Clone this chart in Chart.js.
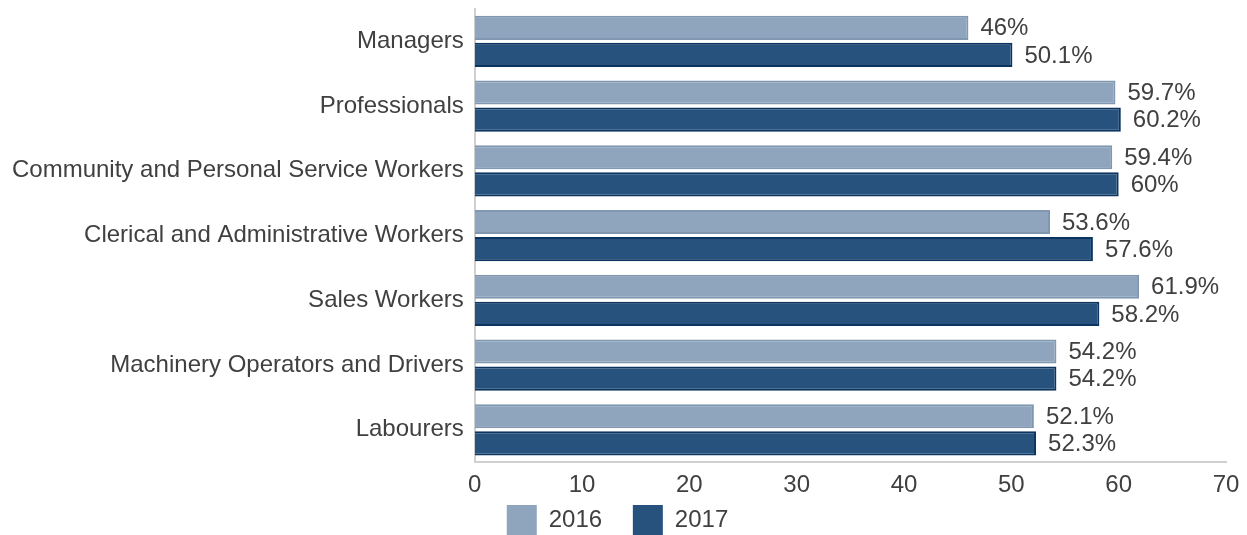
<!DOCTYPE html>
<html>
<head>
<meta charset="utf-8">
<script src="https://cdn.jsdelivr.net/npm/chart.js@4"></script>
<style>
  html, body { margin: 0; padding: 0; background: #fff; }
  #wrap { width: 1247px; height: 535px; }
</style>
</head>
<body>
<div id="wrap"><canvas id="chart"></canvas></div>
<script>
// data
const occupations = [
    "Managers",
    "Professionals",
    "Community and Personal Service Workers",
    "Clerical and Administrative Workers",
    "Sales Workers",
    "Machinery Operators and Drivers",
    "Labourers"
]
const share2016 = [46, 59.7, 59.4, 53.6, 61.9, 54.2, 52.1]
const share2017 = [50.1, 60.2, 60, 57.6, 58.2, 54.2, 52.3]
const xTicks = [0, 10, 20, 30, 40, 50, 60, 70]

const textColor = "#404040"
const fontFamily = "'Liberation Sans', Arial, sans-serif"

// value labels at the end of each bar
const barLabels = {
    id: 'barLabels',
    afterDatasetsDraw(chart) {
        const ctx = chart.ctx
        ctx.save()
        ctx.font = "24px " + fontFamily
        ctx.fillStyle = textColor
        ctx.textBaseline = "middle"
        ctx.textAlign = "left"
        chart.data.datasets.forEach((ds, i) => {
            chart.getDatasetMeta(i).data.forEach((bar, j) => {
                ctx.fillText(ds.data[j] + "%", bar.x + 12, bar.y + 1)
            })
        })
        ctx.restore()
    }
}

const data = {
    labels: occupations,
    datasets: [{
        label: "2016",
        data: share2016,
        backgroundColor: "#8EA5BD",
        borderColor: "#7F97B1",
        borderWidth: 2,
        barPercentage: 0.89,
        categoryPercentage: 0.84
    }, {
        label: "2017",
        data: share2017,
        backgroundColor: "#27527E",
        borderColor: "#0C3461",
        borderWidth: 2,
        barPercentage: 0.89,
        categoryPercentage: 0.84
    }]
}

// trailing spaces widen the legend items a little, like the original spacing
const legendSpace = ["    ", ""]

new Chart(document.getElementById('chart'), {
    type: 'bar',
    data: data,
    options: {
        indexAxis: 'y',
        responsive: true,
        maintainAspectRatio: false,
        animation: false,
        layout: { padding: { top: 7, right: 21, left: 9, bottom: -10 } },
        scales: {
            x: {
                min: 0,
                max: 70,
                afterBuildTicks: axis => { axis.ticks = xTicks.map(v => ({ value: v })) },
                grid: { display: false },
                border: { display: true, color: "#d0d0d0", width: 2 },
                ticks: { color: textColor, font: { size: 24, family: fontFamily }, padding: 1 }
            },
            y: {
                grid: { display: false },
                border: { display: true, color: "#d0d0d0", width: 2 },
                ticks: { color: textColor, font: { size: 24, family: fontFamily, lineHeight: 0.5 }, padding: 3 }
            }
        },
        plugins: {
            legend: {
                position: 'bottom',
                labels: {
                    color: textColor,
                    font: { size: 24, family: fontFamily },
                    boxWidth: 30,
                    boxHeight: 30,
                    padding: 4,
                    generateLabels: chart => Chart.defaults.plugins.legend.labels.generateLabels(chart)
                        .map((item, i) => Object.assign(item, { text: item.text + legendSpace[i], lineWidth: 0 }))
                }
            },
            tooltip: { enabled: false }
        }
    },
    plugins: [barLabels]
})
</script>
</body>
</html>
